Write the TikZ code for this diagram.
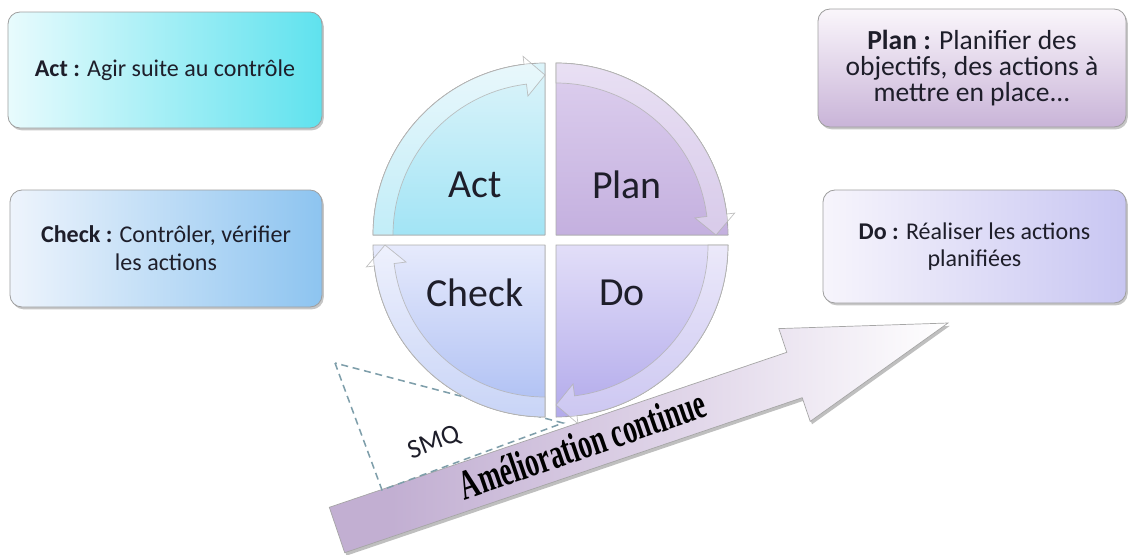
\documentclass[tikz,border=0pt]{standalone}
\usepackage{fontspec}
\setmainfont{Carlito}
\newfontfamily\amfont[FakeStretch=0.64]{Liberation Serif}
\usetikzlibrary{shadows}
\definecolor{actL}{HTML}{E8FBFD}
\definecolor{actD}{HTML}{5FE2EE}
\definecolor{chkL}{HTML}{EEF4FC}
\definecolor{chkD}{HTML}{8DC4F0}
\definecolor{plnL}{HTML}{FAF6FB}
\definecolor{plnD}{HTML}{C9B4D8}
\definecolor{doL}{HTML}{F7F5FC}
\definecolor{doD}{HTML}{C8C6F2}
\definecolor{qActT}{HTML}{DDF4FA}
\definecolor{qActB}{HTML}{A2E4F5}
\definecolor{qPlnT}{HTML}{DDCFEE}
\definecolor{qPlnB}{HTML}{C4B0DF}
\definecolor{qChkT}{HTML}{E6EAFC}
\definecolor{qChkB}{HTML}{ACBEF3}
\definecolor{qDoT}{HTML}{E2DEF8}
\definecolor{qDoB}{HTML}{B2AAEB}
\definecolor{lav}{HTML}{C2AFD2}
\definecolor{lavm}{HTML}{E2D8EA}
\definecolor{txt}{HTML}{1E1E2A}
\definecolor{dashc}{HTML}{7E9EAA}
\pgfdeclarehorizontalshading{amelshade}{100bp}{color(0bp)=(lav); color(30bp)=(lav); color(55bp)=(lavm); color(75bp)=(white); color(100bp)=(white)}
\newcommand\pdcaband[3]{%
  \begin{scope}[shift={#1}]
    \pgfmathsetmacro\pdcab{#3-7}
    \filldraw[band] (#2:172) arc[start angle=#2, end angle=\pdcab, radius=172]
      -- (\pdcab:180) -- (#3:160) -- (\pdcab:140) -- (\pdcab:152)
      arc[start angle=\pdcab, end angle=#2, radius=152] -- cycle;
  \end{scope}}
\newcommand\pdcaquad[5]{%
  \begin{scope}[shift={#1}]
    \filldraw[quad, top color=#4, bottom color=#5] (0,0) -- (#2:172)
      arc[start angle=#2, end angle=#3, radius=172] -- cycle;
  \end{scope}}
\begin{document}
\begin{tikzpicture}[x=0.03cm, y=-0.03cm,
  infobox/.style={draw=gray!75, line width=0.7pt, rounded corners=0.36cm,
    align=center, text=txt, font=\fontsize{20.5}{24}\selectfont,
    drop shadow={opacity=0.45, shadow xshift=1.5pt, shadow yshift=-2pt}},
  quad/.style={draw=gray!65, line width=0.6pt},
  band/.style={fill=white, fill opacity=0.35, draw=gray!60, draw opacity=0.8, line width=0.6pt},
  qlabel/.style={text=txt, font=\fontsize{34}{34}\selectfont},
]
\useasboundingbox (0,0) rectangle (1129,554);

% info boxes
\node[infobox, left color=actL, right color=actD, minimum width=9.42cm, minimum height=3.48cm]
  (actbox) at (165,70) {\textbf{Act :} Agir suite au contrôle};
\node[infobox, left color=chkL, right color=chkD, minimum width=9.36cm, minimum height=3.51cm]
  (chkbox) at (166,248.5) {\textbf{Check :} Contrôler, vérifier\\les actions};
\node[infobox, top color=plnL, bottom color=plnD, minimum width=9.24cm, minimum height=3.54cm,
  font=\fontsize{23.5}{22.5}\selectfont]
  (plnbox) at (972,68) {\textbf{Plan :} Planifier des\\objectifs, des actions à\\mettre en place...};
\node[infobox, left color=doL, right color=doD, minimum width=9.09cm, minimum height=3.39cm,
  font=\fontsize{20.5}{23}\selectfont]
  (dobox) at (974.5,246.5) {\textbf{Do :} Réaliser les actions\\planifiées};

% improvement arrow
\path[shading=amelshade, draw=gray!70, line width=0.6pt,
  drop shadow={opacity=0.5, shadow xshift=1.5pt, shadow yshift=-2.5pt}]
  (329.3,507.3) -- (786.8,352.3) -- (778.8,328.6) -- (948,323)
  -- (810.2,421.4) -- (802.2,397.7) -- (344.7,552.7) -- cycle;
\node[anchor=base, rotate=19, text=black, font=\amfont\bfseries\fontsize{36}{36}\selectfont]
  (amel) at (587,458) {Amélioration continue};

% SMQ dashed triangle
\draw[dashc, line width=1.3pt, dash pattern=on 6pt off 4pt]
  (335,363) -- (382,490) -- (563,423) -- cycle;
\node[rotate=21, text=txt, font=\fontsize{23}{23}\selectfont] (smq) at (434,443) {SMQ};

% PDCA quadrants
\pdcaquad{(545,235)}{180}{270}{qActT}{qActB}
\pdcaquad{(556,235)}{270}{360}{qPlnT}{qPlnB}
\pdcaquad{(556,245)}{0}{90}{qDoT}{qDoB}
\pdcaquad{(545,245)}{90}{180}{qChkT}{qChkB}
\pdcaband{(545,235)}{180}{270}
\pdcaband{(556,235)}{270}{360}
\pdcaband{(556,245)}{0}{90}
\pdcaband{(545,245)}{90}{180}

\node[qlabel] (act) at (475,185) {Act};
\node[qlabel] (plan) at (627,185) {Plan};
\node[qlabel] (check) at (475,293) {Check};
\node[qlabel] (do) at (622,293) {Do};
\end{tikzpicture}
\end{document}
